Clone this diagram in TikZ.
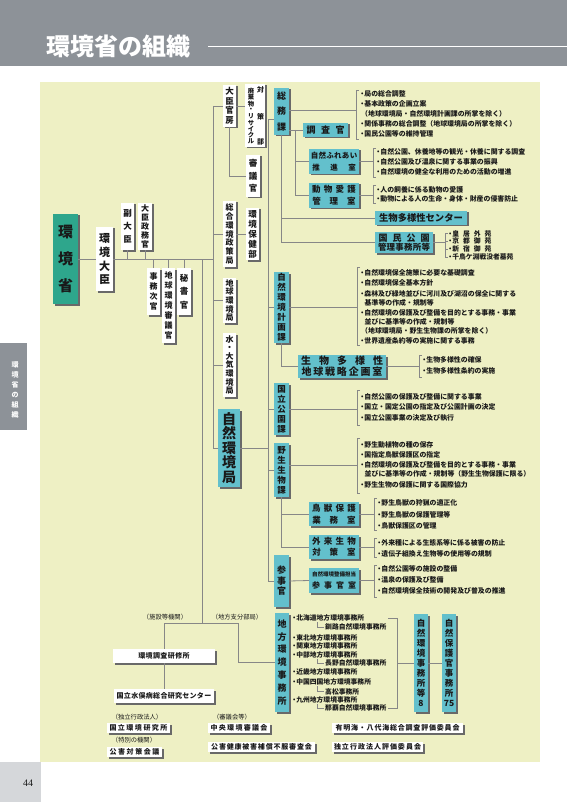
\documentclass[tikz,border=0pt]{standalone}
\usepackage{fontspec}
\setmainfont{Noto Sans CJK JP}
\newfontfamily\numfont{Liberation Serif}
\usetikzlibrary{shadows}
\definecolor{panelc}{RGB}{238,240,196}
\definecolor{hdrc}{RGB}{141,146,152}
\definecolor{tealc}{RGB}{99,192,204}
\definecolor{greenc}{RGB}{46,166,140}
\definecolor{linec}{RGB}{135,135,135}
\definecolor{shadc}{RGB}{105,105,105}
\definecolor{txtc}{RGB}{25,25,25}
\definecolor{pagec}{RGB}{213,215,218}
\makeatletter
\newcommand\vt[2]{\vbox{\offinterlineskip\@tfor\vtc:=#2\do{\vbox to #1{\vss\hbox to 1em{\hss\vtc\hss}\vss}}}}
\newcommand\hs[2]{\@tfor\hsc:=#2\do{\hsc\hskip#1\relax}\unskip}
\makeatother
\newcommand\fsz[1]{\fontsize{#1}{#1}\selectfont}
\newcommand\bu{\makebox[0.6em][c]{・}}
\newcommand\mybox[7][]{%
  \pgfmathsetmacro\mbw{#5-#3}\pgfmathsetmacro\mbh{#6-#4}%
  \pgfmathsetmacro\mbx{(#3+#5)/2}\pgfmathsetmacro\mby{(#4+#6)/2}%
  \node[#1,minimum width=\mbw pt,minimum height=\mbh pt] (#2) at (\mbx,\mby) {#7};}
\newcommand\brk[3]{\draw[ln] ({#1+3},#2) -- (#1,#2) -- (#1,#3) -- ({#1+3},#3);}
\tikzset{
  shad/.style={general shadow={fill=shadc, shadow xshift=1.5pt, shadow yshift=-1.5pt}},
  wbox/.style={fill=white, inner sep=0pt, outer sep=0pt, text=txtc, shad},
  tbox/.style={fill=tealc, inner sep=0pt, outer sep=0pt, text=txtc, shad},
  gbox/.style={fill=greenc, inner sep=0pt, outer sep=0pt, text=txtc, shad},
  ln/.style={draw=linec, line width=0.8pt},
  desc/.style={anchor=west, inner sep=0pt, text=txtc, font=\bfseries\fsz{6.9}},
  lst/.style={anchor=west, inner sep=0pt, text=txtc, font=\bfseries\fsz{6.8}},
  lbl/.style={inner sep=0pt, text=txtc, font=\fsz{6.3}},
}
\begin{document}
\begin{tikzpicture}[x=1pt,y=-1pt]
\useasboundingbox (0,0) rectangle (567,802);
% header
\fill[hdrc] (0,0) rectangle (567,66);
\node[anchor=west, text=white, font=\bfseries\fsz{24}, inner sep=0pt] (title) at (46,46) {環境省の組織};
\coordinate (tl1) at (208,46); \coordinate (tl2) at (567,46);
\draw[white, line width=0.8pt] (tl1) -- (tl2);
% panel
\fill[panelc] (40,82) rectangle (540,762);
\fill[hdrc] (0,343) rectangle (27,430);
\node[text=white, font=\bfseries\fsz{7}, inner sep=0pt] (tab) at (15,390) {\vt{10pt}{環境省の組織}};
\fill[pagec] (0,762) rectangle (41,802);
\node[font=\numfont\fsz{10}, text=txtc, inner sep=0pt] (pg) at (28,783) {44};

% ---- left part
\mybox[gbox,font=\bfseries\fsz{15}]{shou}{53}{214}{78}{304}{\vt{26.5pt}{環境省}}
\mybox[wbox,font=\bfseries\fsz{11}]{daijin}{96}{227}{113}{291}{\vt{14pt}{環境大臣}}
\mybox[wbox,font=\bfseries\fsz{8.5}]{fuku}{121}{203}{134}{250}{\vt{13.5pt}{副大臣}}
\mybox[wbox,font=\bfseries\fsz{8}]{seimu}{138}{203}{152}{250}{\vt{9pt}{大臣政務官}}
\mybox[wbox,font=\bfseries\fsz{8}]{jikan}{147}{268}{160}{315}{\vt{10pt}{事務次官}}
\mybox[wbox,font=\bfseries\fsz{8}]{chishin}{162}{268}{175}{343}{\vt{10pt}{地球環境審議官}}
\mybox[wbox,font=\bfseries\fsz{8.5}]{hisho}{177}{268}{191}{315}{\vt{13.5pt}{秘書官}}

% ---- bureaus
\mybox[wbox,font=\bfseries\fsz{8.5}]{kanbo}{223}{85}{236}{127}{\vt{9.5pt}{大臣官房}}
\mybox[wbox]{haiki}{245}{84}{265}{147}{}
\node[font=\bfseries\fsz{6.3}, inner sep=0pt, text=txtc] (haikiL) at (251,116.5) {\vt{6.3pt}{廃棄物・リサイクル}};
\node[font=\bfseries\fsz{7}, inner sep=0pt, text=txtc] (haikiR1) at (260.5,90) {対};
\node[font=\bfseries\fsz{7}, inner sep=0pt, text=txtc] (haikiR2) at (260.5,117) {策};
\node[font=\bfseries\fsz{7}, inner sep=0pt, text=txtc] (haikiR3) at (260.5,142) {部};
\mybox[wbox,font=\bfseries\fsz{8.5}]{shingi}{246}{155}{260}{197}{\vt{12.5pt}{審議官}}
\mybox[wbox,font=\bfseries\fsz{8}]{sogo}{223}{201}{236}{267}{\vt{8.8pt}{総合環境政策局}}
\mybox[wbox,font=\bfseries\fsz{8.5}]{hoken}{246}{208}{259}{260}{\vt{10pt}{環境保健部}}
\mybox[wbox,font=\bfseries\fsz{8}]{chikyu}{223}{278}{236}{323}{\vt{8.7pt}{地球環境局}}
\mybox[wbox,font=\bfseries\fsz{8}]{mizu}{223}{333}{236}{397}{\vt{8.5pt}{水・大気環境局}}
\mybox[tbox,font=\bfseries\fsz{14}]{shizen}{218}{409}{240}{487}{\vt{14.5pt}{自然環境局}}

% ---- nature bureau units
\mybox[tbox,font=\bfseries\fsz{9}]{somu}{274}{88}{289}{135}{\vt{15.5pt}{総務課}}
\mybox[tbox,font=\bfseries\fsz{9}]{chosa}{303}{123}{348}{137}{\hs{5.5pt}{調査官}}
\mybox[tbox,font=\bfseries\fsz{7.5},align=center]{fureai}{309}{149}{359}{174}{\hs{0.3pt}{自然ふれあい}\\[5pt]\hs{10.5pt}{推進室}}
\mybox[tbox,font=\bfseries\fsz{8.5},align=center]{aigo}{309}{183}{359}{208}{\hs{3.3pt}{動物愛護}\\[3pt]\hs{9pt}{管理室}}
\mybox[tbox,font=\bfseries\fsz{9.3}]{bdc}{375}{211}{467}{225}{生物多様性センター}
\mybox[tbox,font=\bfseries\fsz{8.5},align=center]{kokumin}{375}{232}{433}{253}{{\fsz{9}\hs{5pt}{国民公園}}\\[1pt]\hs{0.2pt}{管理事務所等}}
\mybox[tbox,font=\bfseries\fsz{8.5}]{keikaku}{274}{272}{289}{343}{\vt{10pt}{自然環境計画課}}
\mybox[tbox,font=\bfseries\fsz{10},align=center]{tayosei}{298}{355}{386}{378}{\hs{8pt}{生物多様性}\\[1pt]\hs{1.8pt}{地球戦略企画室}}
\mybox[tbox,font=\bfseries\fsz{8.5}]{kokuritsu}{274}{383}{289}{435}{\vt{10pt}{国立公園課}}
\mybox[tbox,font=\bfseries\fsz{8.5}]{yasei}{274}{443}{289}{497}{\vt{10pt}{野生生物課}}
\mybox[tbox,font=\bfseries\fsz{8.5},align=center]{chojuu}{309}{502}{359}{526}{\hs{3.3pt}{鳥獣保護}\\[3pt]\hs{9pt}{業務室}}
\mybox[tbox,font=\bfseries\fsz{8.5},align=center]{gairai}{309}{535}{359}{559}{\hs{3.3pt}{外来生物}\\[3pt]\hs{9pt}{対策室}}
\mybox[tbox,font=\bfseries\fsz{9}]{sanji}{274}{555}{289}{607}{\vt{10.5pt}{参事官}}
\mybox[tbox,font=\bfseries\fsz{8},align=center]{seibi}{309}{568}{359}{593}{{\fsz{5.5}自然環境整備担当}\\[4pt]\hs{4pt}{参事官室}}

% ---- regional offices
\mybox[tbox,font=\bfseries\fsz{9}]{chiho}{275}{613}{289}{712}{\vt{12.8pt}{地方環境事務所}}
\mybox[tbox,font=\bfseries\fsz{8.5}]{jim8}{414}{614}{428}{712}{\vt{10pt}{自然環境事務所等8}}
\mybox[tbox,font=\bfseries\fsz{8.5}]{hogo}{442}{614}{456}{712}{\vt{10pt}{自然保護官事務所{75}}}

% ---- bottom white boxes
\mybox[wbox,font=\bfseries\fsz{7}]{kenshu}{113}{649}{215}{663}{\hs{0.4pt}{環境調査研修所}}
\mybox[wbox,font=\bfseries\fsz{7}]{minamata}{114}{689}{214}{703}{\hs{0.3pt}{国立水俣病総合研究センター}}
\mybox[wbox,font=\bfseries\fsz{7}]{kokkan}{107}{723}{170}{733}{\hs{1.5pt}{国立環境研究所}}
\mybox[wbox,font=\bfseries\fsz{7}]{kogai}{107}{747}{162}{757}{\hs{1.6pt}{公害対策会議}}
\mybox[wbox,font=\bfseries\fsz{7}]{chuo}{208}{723}{270}{733}{\hs{1.3pt}{中央環境審議会}}
\mybox[wbox,font=\bfseries\fsz{7}]{fufuku}{208}{742}{315}{752}{\hs{0.8pt}{公害健康被害補償不服審査会}}
\mybox[wbox,font=\bfseries\fsz{7}]{ariake}{332}{723}{463}{733}{\hs{0.8pt}{有明海・八代海総合調査評価委員会}}
\mybox[wbox,font=\bfseries\fsz{7}]{hyoka}{332}{742}{423}{752}{\hs{1pt}{独立行政法人評価委員会}}

\node[lbl] (lb1) at (165,617) {（施設等機関）};
\node[lbl] (lb2) at (237,617) {（地方支分部局）};
\node[lbl] (lb3) at (137,717) {（独立行政法人）};
\node[lbl] (lb4) at (134,740) {（特別の機関）};
\node[lbl] (lb5) at (232,717) {（審議会等）};

% ---- connectors
\coordinate (mainR) at (213,259);
\coordinate (spT) at (213,106);
\coordinate (spB) at (213,448);
\draw[ln] (shou.east) -- (daijin.west);
\draw[ln] (daijin.east) -- (mainR);
\draw[ln] (spT) -- (spB);
\foreach \n in {fuku,seimu} \draw[ln] (\n.south) -- (\n.south |- mainR);
\foreach \n in {jikan,chishin,hisho} \draw[ln] (\n.north) -- (\n.north |- mainR);
\foreach \n in {kanbo,sogo,chikyu,mizu,shizen} \draw[ln] (\n.west) -- (\n.west -| spT);
\draw[ln] (kanbo.east) -- (kanbo.east -| haiki.west);
\draw[ln] (kanbo.south) |- (shingi.west);
\draw[ln] (sogo.east) -- (sogo.east -| hoken.west);

\coordinate (brT) at (202,259); \coordinate (brB) at (202,623);
\coordinate (brL) at (164,623); \coordinate (brR) at (238,623);
\draw[ln] (brT) -- (brB);
\draw[ln] (brL) -- (brR);
\draw[ln] (brL) -- (kenshu.north);
\draw[ln] (kenshu.south) -- (kenshu.south |- minamata.north);
\draw[ln] (brR) |- (chiho.west);

\coordinate (isT) at (268,119); \coordinate (isB) at (268,581);
\draw[ln] (isT) -- (isB);
\draw[ln] (isT) -- (isT -| somu.west);
\foreach \n in {keikaku,kokuritsu,yasei,sanji} \draw[ln] (\n.west) -- (\n.west -| isT);
\draw[ln] (shizen.east) -- (shizen.east -| isT);

\draw[ln] (chosa.west -| somu.east) -- (chosa.west);
\coordinate (v295) at (295,130);
\draw[ln] (v295) |- (aigo.west);
\draw[ln] (fureai.west -| v295) -- (fureai.west);
\draw[ln] (somu.south) |- (kokumin.west);
\draw[ln] (bdc.west -| somu.south) -- (bdc.west);
\draw[ln] (keikaku.south) |- (tayosei.west);
\draw[ln] (yasei.south) |- (gairai.west);
\draw[ln] (chojuu.west -| yasei.south) -- (chojuu.west);
\draw[ln] (sanji.east) -- (seibi.west);
\draw[ln] (jim8.east) -- (hogo.west);

% ---- brackets and links
\coordinate (bk1) at (356,110);  \draw[ln] (somu.east |- bk1) -- (bk1);
\coordinate (bk2) at (373,162);  \draw[ln] (fureai.east) -- (fureai.east -| bk2);
\coordinate (bk3) at (373,196);  \draw[ln] (aigo.east) -- (aigo.east -| bk3);
\coordinate (bk4) at (445,243);  \draw[ln] (kokumin.east) -- (kokumin.east -| bk4);
\coordinate (bk5) at (357,307);  \draw[ln] (keikaku.east) -- (keikaku.east -| bk5);
\coordinate (bk6) at (419,367);  \draw[ln] (tayosei.east) -- (tayosei.east -| bk6);
\coordinate (bk7) at (357,408);  \draw[ln] (kokuritsu.east) -- (kokuritsu.east -| bk7);
\coordinate (bk8) at (357,465);  \draw[ln] (yasei.east |- bk8) -- (bk8);
\coordinate (bk9) at (374,514);  \draw[ln] (chojuu.east) -- (chojuu.east -| bk9);
\coordinate (bk10) at (374,547); \draw[ln] (gairai.east) -- (gairai.east -| bk10);
\coordinate (bk11) at (374,581); \draw[ln] (seibi.east) -- (seibi.east -| bk11);
\coordinate (bk12) at (397,663); \draw[ln] (bk12) -- (bk12 -| jim8.west);
\brk{356}{90}{139}
\brk{373}{148}{177}
\brk{373}{185}{203}
\brk{357}{267}{345}
\brk{419}{355}{377}
\brk{357}{390}{425}
\brk{357}{438}{493}
\brk{374}{498}{530}
\brk{374}{538}{557}
\brk{374}{565}{597}
\draw[ln] (447.5,233) -- (445,233) -- (445,257) -- (447.5,257);
\draw[ln] (445,241) -- (447.5,241);
\draw[ln] (445,249) -- (447.5,249);
\draw[ln] (388,618) -- (397,618) -- (397,708) -- (388,708);

% ---- descriptions
\node[desc] (s1) at (360,94) {\bu 局の総合調整};
\node[desc] (s2) at (360,104) {\bu 基本政策の企画立案};
\node[desc] (s3) at (361,113.5) {（地球環境局・自然環境計画課の所掌を除く）};
\node[desc] (s4) at (360,124) {\bu 関係事務の総合調整（地球環境局の所掌を除く）};
\node[desc] (s5) at (360,134) {\bu 国民公園等の維持管理};
\node[desc] (f1) at (376,152) {\bu 自然公園、休養地等の観光・休養に関する調査};
\node[desc] (f2) at (376,162) {\bu 自然公園及び温泉に関する事業の振興};
\node[desc] (f3) at (376,172) {\bu 自然環境の健全な利用のための活動の増進};
\node[desc] (a1) at (376,190) {\bu 人の飼養に係る動物の愛護};
\node[desc] (a2) at (376,199) {\bu 動物による人の生命・身体・財産の侵害防止};
\node[lst] (k1) at (448,233.5) {\bu\hs{4pt}{皇居外苑}};
\node[lst] (k2) at (448,241) {\bu\hs{4pt}{京都御苑}};
\node[lst] (k3) at (448,249) {\bu\hs{4pt}{新宿御苑}};
\node[lst] (k4) at (448,257) {\bu 千鳥ケ淵戦没者墓苑};
\node[desc] (p1) at (360,273) {\bu 自然環境保全施策に必要な基礎調査};
\node[desc] (p2) at (360,283) {\bu 自然環境保全基本方針};
\node[desc] (p3) at (360,293.5) {\bu 森林及び緑地並びに河川及び湖沼の保全に関する};
\node[desc] (p4) at (364.5,303) {基準等の作成・規制等};
\node[desc] (p5) at (360,313) {\bu 自然環境の保護及び整備を目的とする事務・事業};
\node[desc] (p6) at (364.5,322) {並びに基準等の作成・規制等};
\node[desc] (p7) at (361,331) {（地球環境局・野生生物課の所掌を除く）};
\node[desc] (p8) at (360,341) {\bu 世界遺産条約等の実施に関する事務};
\node[desc] (t1) at (422,360) {\bu 生物多様性の確保};
\node[desc] (t2) at (422,371) {\bu 生物多様性条約の実施};
\node[desc] (n1) at (360,397) {\bu 自然公園の保護及び整備に関する事業};
\node[desc] (n2) at (360,407) {\bu 国立・国定公園の指定及び公園計画の決定};
\node[desc] (n3) at (360,418) {\bu 国立公園事業の決定及び執行};
\node[desc] (y1) at (360,445) {\bu 野生動植物の種の保存};
\node[desc] (y2) at (360,455) {\bu 国指定鳥獣保護区の指定};
\node[desc] (y3) at (360,465) {\bu 自然環境の保護及び整備を目的とする事務・事業};
\node[desc] (y4) at (364.5,474) {並びに基準等の作成・規制等（野生生物保護に限る）};
\node[desc] (y5) at (360,485) {\bu 野生生物の保護に関する国際協力};
\node[desc] (c1) at (377,503) {\bu 野生鳥獣の狩猟の適正化};
\node[desc] (c2) at (377,515) {\bu 野生鳥獣の保護管理等};
\node[desc] (c3) at (377,526) {\bu 鳥獣保護区の管理};
\node[desc] (g1) at (377,543) {\bu 外来種による生態系等に係る被害の防止};
\node[desc] (g2) at (377,554) {\bu 遺伝子組換え生物等の使用等の規制};
\node[desc] (e1) at (377,569) {\bu 自然公園等の施設の整備};
\node[desc] (e2) at (377,580) {\bu 温泉の保護及び整備};
\node[desc] (e3) at (377,591) {\bu 自然環境保全技術の開発及び普及の推進};

% ---- regional office list
\node[lst] (r1) at (292,618) {\bu 北海道地方環境事務所};
\node[lst] (r1a) at (325,627) {釧路自然環境事務所};
\node[lst] (r2) at (292,638) {\bu 東北地方環境事務所};
\node[lst] (r3) at (292,646) {\bu 関東地方環境事務所};
\node[lst] (r4) at (292,654.5) {\bu 中部地方環境事務所};
\node[lst] (r4a) at (325,663) {長野自然環境事務所};
\node[lst] (r5) at (292,672) {\bu 近畿地方環境事務所};
\node[lst] (r6) at (292,682) {\bu 中国四国地方環境事務所};
\node[lst] (r6a) at (325,691.5) {高松事務所};
\node[lst] (r7) at (292,699.5) {\bu 九州地方環境事務所};
\node[lst] (r7a) at (325,708) {那覇自然環境事務所};
\draw[ln] (317,622) |- ([xshift=-1.5pt]r1a.west);
\draw[ln] (317,658.5) |- ([xshift=-1.5pt]r4a.west);
\draw[ln] (317,686) |- ([xshift=-1.5pt]r6a.west);
\draw[ln] (317,703.5) |- ([xshift=-1.5pt]r7a.west);
\end{tikzpicture}
\end{document}
